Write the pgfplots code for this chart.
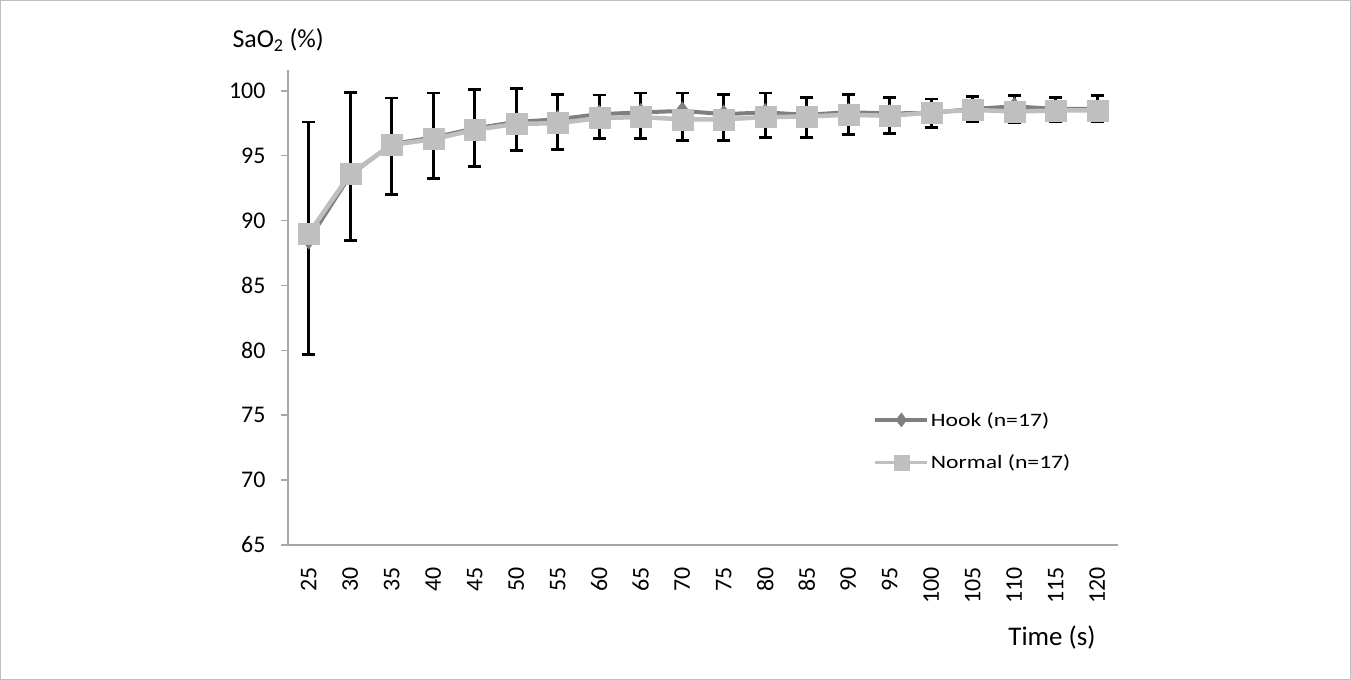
\documentclass[border=0pt]{standalone}
\usepackage{pgfplots}
\pgfplotsset{compat=1.18}
\usepackage{pgfplotstable}
\usepackage{fontspec}
\setmainfont{Carlito}
\definecolor{hookc}{HTML}{7F7F7F}
\definecolor{normc}{HTML}{BFBFBF}
\definecolor{axc}{HTML}{A6A6A6}
\pgfplotstableread{
x hook normal c e
0 88.5 89.0 88.65 8.95
1 93.5 93.6 94.155 5.715
2 95.9 95.83 95.73 3.71
3 96.4 96.27 96.54 3.28
4 97.1 96.99 97.115 2.965
5 97.6 97.45 97.76 2.39
6 97.8 97.5 97.62 2.12
7 98.2 97.9 97.985 1.685
8 98.33 97.97 98.06 1.76
9 98.45 97.8 97.98 1.84
10 98.2 97.8 97.925 1.775
11 98.33 97.97 98.12 1.70
12 98.15 98.02 97.955 1.535
13 98.35 98.15 98.16 1.56
14 98.25 98.07 98.085 1.405
15 98.3 98.33 98.285 1.085
16 98.6 98.53 98.595 0.965
17 98.8 98.4 98.61 1.03
18 98.6 98.48 98.545 0.945
19 98.6 98.48 98.62 1.02
}\datatable
\begin{document}
\begin{tikzpicture}
\path[use as bounding box] (0,0) rectangle (1351bp,680bp);
\draw[color=black!25, line width=1bp] (0.5bp,0.5bp) rectangle (1350.5bp,679.5bp);
\begin{axis}[
  at={(288bp,135bp)}, anchor=south west,
  width=830bp, height=475bp, scale only axis,
  xmin=-0.5, xmax=19.5, ymin=65, ymax=101.6,
  axis x line=bottom, axis y line=left,
  axis line style={axc, line width=1.5bp, -},
  every tick/.style={axc, line width=1.5bp},
  tick align=outside,
  ytick={65,70,...,100},
  major tick length=7bp,
  xtick={0,...,19},
  xticklabels={25,30,35,40,45,50,55,60,65,70,75,80,85,90,95,100,105,110,115,120},
  x tick style={draw=none},
  minor xtick={-0.5,0.5,...,19.5},
  minor tick length=9bp,
  minor x tick style={axc, line width=1.5bp},
  xticklabel style={rotate=90, anchor=east, font=\fontsize{24}{26}\selectfont, xshift=-12bp},
  yticklabel style={font=\fontsize{24}{26}\selectfont, xshift=-12bp},
  /pgf/number format/assume math mode=true,
  clip=false,
  legend style={draw=none, fill=none, at={(0.705,0.283)}, anchor=north west,
    font=\fontsize{19}{21}\selectfont, row sep=24bp, inner sep=0pt,
    nodes={inner sep=1.5bp}},
  legend cell align=left,
]
\addplot[draw=none, mark=none, forget plot,
  error bars/.cd, y dir=both, y explicit,
  error bar style={draw=black, line width=2.8bp, solid},
  error mark options={rotate=90, mark size=6.5bp, line width=2.8bp, draw=black}]
  table[x=x, y=c, y error=e] {\datatable};
\addplot[hookc, line width=4bp, mark=diamond*, mark size=9bp,
  mark options={fill=hookc, draw=hookc, line width=0.5bp},
  legend image code/.code={\draw[mark repeat=2, mark phase=2, mark size=7bp] plot coordinates {(0bp,0bp) (26bp,0bp) (52bp,0bp)};}]
  table[x=x, y=hook] {\datatable};
\addlegendentry{\scalebox{1.25}[1]{Hook (n=17)}}
\addplot[normc, line width=4.5bp, mark=square*, mark size=10.5bp,
  mark options={fill=normc, draw=normc, line width=0.5bp},
  legend image code/.code={\draw[line width=3bp, mark repeat=2, mark phase=2, mark size=7.5bp] plot coordinates {(0bp,0bp) (26bp,0bp) (52bp,0bp)};}]
  table[x=x, y=normal] {\datatable};
\addlegendentry{\scalebox{1.25}[1]{Normal (n=17)}}
\end{axis}
\node[anchor=base west, font=\fontsize{26}{28}\selectfont] at (229bp,632bp) {SaO\textsubscript{2} (\%)};
\node[anchor=base east, font=\fontsize{27}{29}\selectfont] at (1099bp,35bp) {Time (s)};
\end{tikzpicture}
\end{document}
